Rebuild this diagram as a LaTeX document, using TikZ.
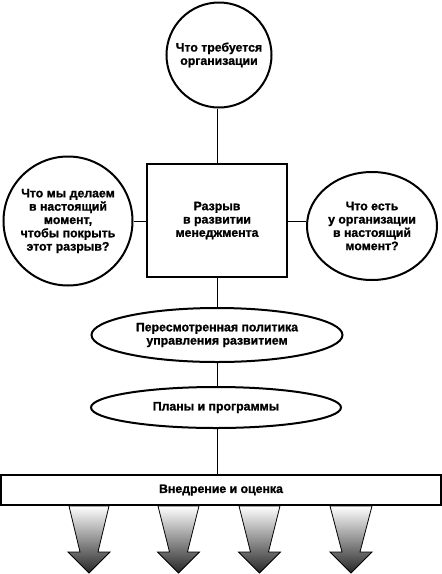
\documentclass[tikz,border=0pt]{standalone}
\usepackage{fontspec}
\setmainfont[FakeBold=1.2]{Liberation Sans}
\usetikzlibrary{shapes.geometric}
\tikzset{
  txt/.style={align=center,font=\fontsize{12.3}{13.3}\selectfont\bfseries},
  ring/.style={txt,draw,line width=2pt,circle,inner sep=0pt},
  oval/.style={txt,draw,line width=2pt,ellipse,inner sep=0pt},
  boxx/.style={txt,draw,line width=2.5pt,inner sep=0pt},
  link/.style={line width=0.8pt},
  bigarrow/.style={draw,line width=0.8pt,top color=white,bottom color=black!85,shading angle=0}
}
\begin{document}
\begin{tikzpicture}[x=1pt,y=-1pt]
\useasboundingbox (0,0) rectangle (442,574);
\node[ring,minimum size=105] (need) at (219,55) {Что требуется\\организации};
\node[boxx,minimum width=140,minimum height=113] (gap) at (217,220.5) {Разрыв\\в развитии\\менеджмента};
\node[ring,minimum size=129] (now) at (68,221) {Что мы делаем\\в настоящий\\момент,\\чтобы покрыть\\этот разрыв?};
\node[oval,minimum width=130,minimum height=108] (have) at (372,226) {Что есть\\у организации\\в настоящий\\момент?};
\node[oval,minimum width=251,minimum height=54] (pol) at (217,335) {Пересмотренная политика\\управления развитием};
\node[oval,minimum width=250,minimum height=41] (plan) at (216,407.5) {Планы и программы};
\node[boxx,minimum width=440,minimum height=30] (impl) at (221,490) {Внедрение и оценка};
\draw[link] (gap.north |- need.south) -- (gap.north);
\draw[link] (now.east) -- (now.east -| gap.west);
\draw[link] (now.east -| gap.east) -- (now.east -| have.west);
\draw[link] (gap.south) -- (gap.south |- pol.north);
\draw[link] (pol.south -| gap.south) -- (plan.north -| gap.south);
\draw[link] (plan.south -| gap.south) -- (impl.north -| gap.south);
\foreach \c/\w in {89/40,178.5/41,259.5/41,351/42}{
  \path[bigarrow] (\c-\w/2,506) -- (\c+\w/2,506) -- (\c+9,552) -- (\c+21,552) -- (\c,573) -- (\c-21,552) -- (\c-9,552) -- cycle;
}
\end{tikzpicture}
\end{document}
